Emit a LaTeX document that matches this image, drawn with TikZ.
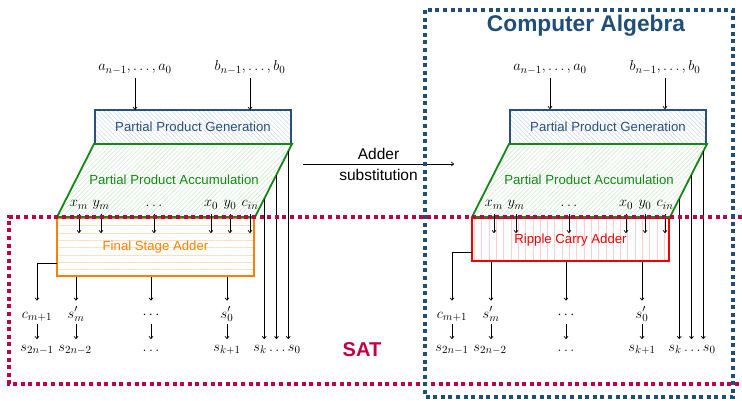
\documentclass[tikz,border=0pt]{standalone}
\usepackage{fontspec}
\newfontfamily\lsans{Liberation Sans}
\usetikzlibrary{patterns.meta,arrows.meta,calc}
\definecolor{ppgc}{RGB}{40,80,125}
\definecolor{ppgl}{RGB}{200,212,226}
\definecolor{ppac}{RGB}{20,135,20}
\definecolor{ppal}{RGB}{200,232,200}
\definecolor{fsac}{RGB}{255,128,0}
\definecolor{fsal}{RGB}{255,222,195}
\definecolor{rcac}{RGB}{240,0,0}
\definecolor{rcal}{RGB}{255,208,208}
\definecolor{satc}{RGB}{192,0,70}
\definecolor{cac}{RGB}{31,78,121}
\tikzset{
  txt/.style={font=\lsans\fontsize{13.2}{15}\selectfont, inner sep=0pt},
  subtxt/.style={font=\lsans\fontsize{15.5}{18}\selectfont, inner sep=0pt},
  mth/.style={font=\fontsize{15}{18}\selectfont, inner sep=0pt, anchor=base},
  arr/.style={-{To[length=3pt,width=4.5pt]}, line width=0.7pt},
  ppgbox/.style={draw=ppgc, line width=1.8pt, text=ppgc, inner sep=0pt,
    pattern={Lines[angle=-45,distance=3.2pt,line width=0.45pt]}, pattern color=ppgl},
  ppashape/.style={draw=ppac, line width=1.8pt,
    pattern={Lines[angle=45,distance=3.2pt,line width=0.45pt]}, pattern color=ppal},
  fsabox/.style={draw=fsac, line width=1.8pt, text=fsac, inner sep=0pt,
    pattern={Lines[angle=0,distance=7.3pt,line width=0.7pt]}, pattern color=fsal},
  rcabox/.style={draw=rcac, line width=1.8pt, text=rcac, inner sep=0pt,
    pattern={Lines[angle=90,distance=7.3pt,line width=0.7pt]}, pattern color=rcal},
  dotbox/.style={line width=3.2pt, dash pattern=on 4pt off 3.6pt},
}
\newcommand\mydesign[6]{%
\begin{scope}[xshift=#1pt, name prefix=#2]
  % inputs
  \node[mth] (a) at (135,71) {$a_{n-1},\ldots,a_0$};
  \node[mth] (b) at (250,71) {$b_{n-1},\ldots,b_0$};
  \node[ppgbox, txt, text=ppgc, minimum width=196pt, minimum height=34pt] (ppg) at (193,127) {Partial Product Generation};
  \draw[arr] ($(a.base)+(0,7)$) -- (a.base |- ppg.north);
  \draw[arr] ($(b.base)+(0,7)$) -- (b.base |- ppg.north);
  % adder
  \node[#3, txt, minimum width=197pt, minimum height=#5pt, anchor=north] (add) at (155.5,218) {#4};
  % accumulation
  \coordinate (pa1) at (94,144);
  \coordinate (pa2) at (292,144);
  \coordinate (pa3) at (255,217);
  \coordinate (pa4) at (57,217);
  \draw[ppashape] (pa1) -- (pa2) -- (pa3) -- (pa4) -- cycle;
  \node[txt, text=ppac] (ppa) at (174,180) {Partial Product Accumulation};
  % adder inputs
  \node[mth] (xm) at (79,207) {$x_m$};
  \node[mth] (ym) at (101,207) {$y_m$};
  \node[mth] (xd) at (154,207) {$\ldots$};
  \node[mth] (x0) at (211,207) {$x_0$};
  \node[mth] (y0) at (230,207) {$y_0$};
  \node[mth] (cin) at (250,207) {$c_{in}$};
  \foreach \n in {xm,ym,xd,x0,y0,cin}{
    \draw[arr] ($(\n.base)+(0,7)$) -- ($(\n.base)+(0,26)$);
  }
  % outputs row 1
  \node[mth] (cm) at (37,318) {$c_{m+1}$};
  \node[mth] (sm) at (76,318) {$s'_m$};
  \node[mth] (sd) at (151,318) {$\cdots$};
  \node[mth] (s0) at (227,318) {$s'_0$};
  \coordinate (cy) at (0,#6);
  \coordinate (r1) at (0,300.5);
  \coordinate (r2) at (0,339);
  \draw[arr] (add.west |- cy) -- (cm.base |- cy) -- (cm.base |- r1);
  \foreach \n in {sm,sd,s0}{
    \draw[arr] (\n.base |- add.south) -- (\n.base |- r1);
  }
  % outputs row 2
  \node[mth] (t1) at (37,351) {$s_{2n-1}$};
  \node[mth] (t2) at (75,351) {$s_{2n-2}$};
  \node[mth] (td) at (151,351) {$\ldots$};
  \node[mth] (t3) at (227,351) {$s_{k+1}$};
  \node[mth] (t4) at (277,351) {$s_k\ldots s_0$};
  \coordinate (q1) at (0,324);
  \draw[arr] (cm.base |- q1) -- (cm.base |- r2);
  \draw[arr] (sm.base |- q1) -- (sm.base |- r2);
  \draw[arr] (sd.base |- q1) -- (sd.base |- r2);
  \draw[arr] (s0.base |- q1) -- (s0.base |- r2);
  % bypass lines
  \coordinate (e1) at ($(pa2)!0.10!(pa3)$);
  \coordinate (e2) at ($(pa2)!0.42!(pa3)$);
  \coordinate (e3) at ($(pa2)!0.75!(pa3)$);
  \foreach \e in {e1,e2,e3}{
    \draw[arr] (\e) -- (\e |- r2);
  }
\end{scope}}
\begin{document}
\begin{tikzpicture}[x=1pt,y=-1pt]
\useasboundingbox (0,0) rectangle (742,401);
\mydesign{0}{L-}{fsabox}{Final Stage Adder}{58}{263}
\mydesign{415}{R-}{rcabox}{Ripple Carry Adder}{43}{252}
% substitution arrow
\coordinate (sA) at (303,164);
\coordinate (sB) at (454,164);
\draw[arr] (sA) -- (sB);
\node[subtxt, above=4pt] (subA) at ($(sA)!0.5!(sB)$) {Adder};
\node[subtxt, below=5pt] (subB) at ($(sA)!0.5!(sB)$) {substitution};
% SAT region
\draw[dotbox, draw=satc] (750,217) -- (9,217) -- (9,384) -- (750,384);
\node[font=\lsans\bfseries\fontsize{20}{24}\selectfont, text=satc, inner sep=0pt] (sat) at (362,350) {SAT};
% Computer algebra region
\draw[dotbox, draw=cac] (425,10) rectangle (733,397);
\node[font=\lsans\bfseries\fontsize{22.7}{26}\selectfont, text=cac, inner sep=0pt] (ca) at (586,26) {Computer Algebra};
\end{tikzpicture}
\end{document}
